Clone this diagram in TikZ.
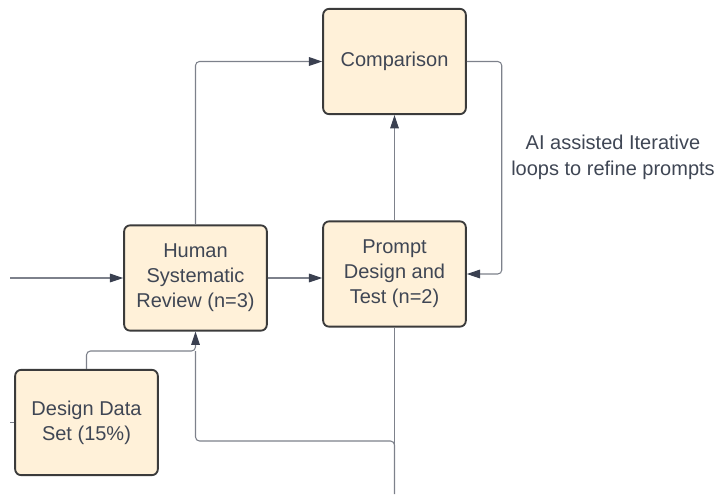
\documentclass[tikz,border=0pt]{standalone}
\usepackage{fontspec}
\setmainfont{Liberation Sans}
\usetikzlibrary{arrows.meta}
\definecolor{boxfill}{HTML}{FFF1D9}
\definecolor{boxedge}{HTML}{3B3B3B}
\definecolor{ink}{HTML}{3F4654}
\definecolor{wire}{HTML}{7D818B}
\definecolor{tipcol}{HTML}{3A4050}

\begin{document}
\begin{tikzpicture}[x=0.75pt, y=-0.75pt,
    box/.style={draw=boxedge, fill=boxfill, line width=1.4pt, rounded corners=4.5pt,
        minimum width=107pt, minimum height=79pt, align=center, text=ink,
        font=\fontsize{15}{18.75}\selectfont},
    flow/.style={draw=wire, line width=0.8pt, rounded corners=3pt},
    tip/.style={-{Triangle[length=10pt, width=6.5pt, color=tipcol]}}]
    \useasboundingbox (0,0) rectangle (717,494);
    \node[box] (cmp) at (394.5,61.5) {Comparison};
    \node[box] (hsr) at (195.5,278) {Human\\Systematic\\Review (n=3)};
    \node[box] (pdt) at (394.5,274) {Prompt\\Design and\\Test (n=2)};
    \node[box] (dds) at (86.5,422.5) {Design Data\\Set (15\%)};
    \node[text=ink, align=center, font=\fontsize{15}{19.5}\selectfont] (loop) at (613,157)
        {AI assisted Iterative\\loops to refine prompts};
    \coordinate (src) at (10,278);
    \coordinate (sink) at (394.5,494);
    \coordinate (split) at (195.5,351);
    % main flow
    \path[flow, tip] (src) -- (hsr.west);
    \path[flow, tip] (hsr.east) -- (pdt.west |- hsr.east);
    \path[flow, tip] (hsr.north) |- (cmp.west);
    \path[flow, tip] (pdt.north) -- (cmp.south);
    \path[flow, tip] (cmp.east) -- ++(35,0) |- (pdt.east);
    % feedback from below
    \path[flow] (pdt.south) -- (sink);
    \path[flow, tip] (dds.north) |- (split) -- (hsr.south);
    \path[flow] (split) -- (split |- 0,441) -| (sink);
    \path[flow] (dds.west) -- ++(-4,0);
\end{tikzpicture}
\end{document}
